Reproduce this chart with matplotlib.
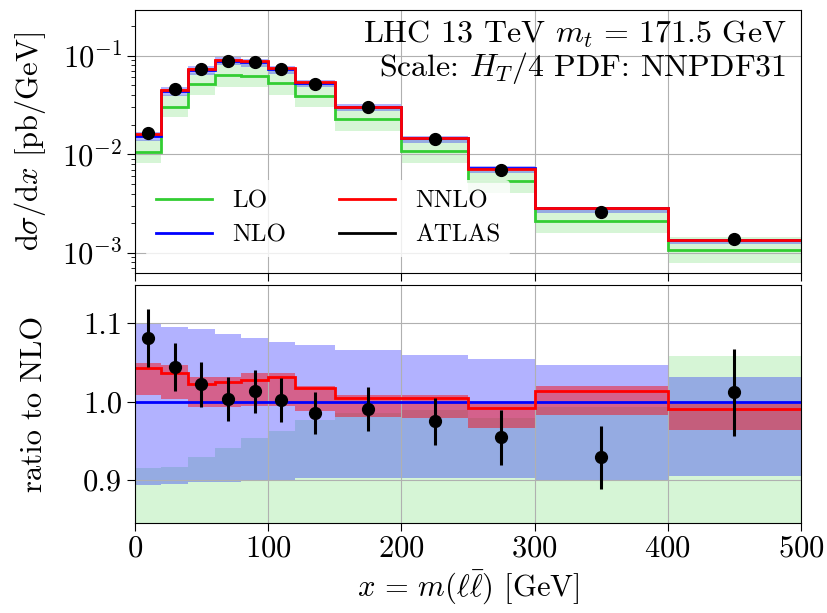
import numpy as np
import matplotlib
matplotlib.use('Agg')
import matplotlib.pyplot as plt
from matplotlib.lines import Line2D

plt.rcParams['font.family'] = 'serif'
plt.rcParams['font.serif'] = ['cmr10']
plt.rcParams['mathtext.fontset'] = 'cm'
plt.rcParams['axes.formatter.use_mathtext'] = True
plt.rcParams['font.size'] = 22

# m(ll) binning [GeV]
edges = np.array([0, 20, 40, 60, 80, 100, 120, 150, 200, 250, 300, 400, 500])
centers = 0.5 * (edges[1:] + edges[:-1])

# central predictions [pb/GeV]
lo = np.array([0.01064, 0.0304, 0.0513, 0.0637, 0.0622, 0.0525, 0.0390, 0.02264,
               0.0109, 0.00536, 0.00212, 0.00107])
nlo = np.array([0.01531, 0.04368, 0.07172, 0.08863, 0.08578, 0.07265, 0.05274, 0.03030,
                0.01456, 0.00722, 0.00282, 0.001354])
nnlo = np.array([0.01597, 0.04530, 0.07337, 0.09085, 0.08818, 0.07490, 0.05364, 0.03045,
                 0.01463, 0.00716, 0.00286, 0.001342])

# scale bands, relative to NLO central
lo_band_lo = np.array([0.530, 0.542, 0.557, 0.548, 0.557, 0.549, 0.570, 0.572, 0.565, 0.557, 0.560, 0.580])
lo_band_hi = np.array([0.915, 0.917, 0.929, 0.941, 0.954, 0.962, 0.977, 0.985, 0.989, 0.979, 0.993, 1.058])
nlo_band_lo = np.array([0.894, 0.895, 0.897, 0.898, 0.900, 0.900, 0.903, 0.902, 0.902, 0.903, 0.900, 0.905])
nlo_band_hi = np.array([1.100, 1.096, 1.093, 1.087, 1.081, 1.076, 1.072, 1.066, 1.060, 1.054, 1.047, 1.031])
nnlo_band_lo = np.array([1.009, 1.003, 0.993, 0.993, 0.994, 0.994, 0.988, 0.980, 0.979, 0.966, 0.983, 0.964])
nnlo_band_hi = np.array([1.049, 1.047, 1.032, 1.032, 1.037, 1.037, 1.020, 1.009, 1.009, 0.997, 1.020, 0.997])

# ATLAS measurement [pb/GeV]
atlas = np.array([0.01656, 0.0456, 0.0733, 0.0889, 0.0869, 0.0728, 0.0520, 0.0300,
                  0.0142, 0.00689, 0.00262, 0.00137])
atlas_err = np.array([0.000566, 0.00135, 0.00208, 0.00248, 0.00240, 0.00204, 0.00142, 0.00085,
                      0.000437, 0.000253, 0.000113, 0.0000758])

c_lo, c_nlo, c_nnlo = 'limegreen', 'blue', 'red'

fig = plt.figure(figsize=(8.27, 6.13), dpi=100)
ax1 = fig.add_axes([0.163, 0.5546, 0.8056, 0.4291])
ax2 = fig.add_axes([0.163, 0.1468, 0.8056, 0.3882], sharex=ax1)

# upper panel: absolute distributions
ax1.stairs(lo_band_hi * nlo, edges, baseline=lo_band_lo * nlo, fill=True, color=c_lo, alpha=0.2, lw=0)
ax1.stairs(nlo_band_hi * nlo, edges, baseline=nlo_band_lo * nlo, fill=True, color=c_nlo, alpha=0.3, lw=0)
ax1.stairs(nnlo_band_hi * nlo, edges, baseline=nnlo_band_lo * nlo, fill=True, color=c_nnlo, alpha=0.45, lw=0)
ax1.stairs(lo, edges, color=c_lo, lw=2, baseline=None, zorder=2.5)
ax1.stairs(nlo, edges, color=c_nlo, lw=2, baseline=None, zorder=2.5)
ax1.stairs(nnlo, edges, color=c_nnlo, lw=2, baseline=None, zorder=2.5)
ax1.errorbar(centers, atlas, yerr=atlas_err, fmt='o', color='k', ms=8.5, elinewidth=2.2, capsize=0, zorder=5)

ax1.set_yscale('log')
ax1.set_ylim(6.25e-4, 0.29)
ax1.set_xlim(0, 500)
ax1.set_ylabel(r'$\mathrm{d}\sigma/\mathrm{d}x$ [pb/GeV]')
ax1.grid(True)
ax1.tick_params(labelbottom=False)
ax1.text(0.9785, 0.968, 'LHC 13 TeV $m_t\\,=\\,171.5$ GeV\nScale: $H_T/4$ PDF: NNPDF31',
         transform=ax1.transAxes, ha='right', va='top', multialignment='right',
         linespacing=1.0, fontsize=23)

handles = [Line2D([], [], color=c_lo, lw=2), Line2D([], [], color=c_nlo, lw=2),
           Line2D([], [], color=c_nnlo, lw=2), Line2D([], [], color='k', lw=2)]
ax1.legend(handles, ['LO', 'NLO', 'NNLO', 'ATLAS'], ncol=2, loc='lower left',
           bbox_to_anchor=(0.0, 0.02), fontsize=18, frameon=True, edgecolor='none',
           facecolor='white', framealpha=0.8, handlelength=2.25, handletextpad=0.8,
           columnspacing=2.1, labelspacing=0.45, borderaxespad=0.45)

# lower panel: ratio to NLO
ax2.stairs(lo_band_hi, edges, baseline=lo_band_lo, fill=True, color=c_lo, alpha=0.2, lw=0)
ax2.stairs(nlo_band_hi, edges, baseline=nlo_band_lo, fill=True, color=c_nlo, alpha=0.3, lw=0)
ax2.stairs(nnlo_band_hi, edges, baseline=nnlo_band_lo, fill=True, color=c_nnlo, alpha=0.45, lw=0)
ax2.stairs(lo / nlo, edges, color=c_lo, lw=2, baseline=None, zorder=2.5)
ax2.stairs(nlo / nlo, edges, color=c_nlo, lw=2, baseline=None, zorder=2.5)
ax2.stairs(nnlo / nlo, edges, color=c_nnlo, lw=2, baseline=None, zorder=2.5)
ax2.errorbar(centers, atlas / nlo, yerr=atlas_err / nlo, fmt='o', color='k', ms=8.5,
             elinewidth=2.2, capsize=0, zorder=5)

ax2.set_ylim(0.845, 1.149)
ax2.set_yticks([0.9, 1.0, 1.1])
ax2.set_yticklabels(['0.9', '1.0', '1.1'])
ax2.set_xticks([0, 100, 200, 300, 400, 500])
ax2.set_ylabel('ratio to NLO')
ax2.set_xlabel(r'$x\,=\,m(\ell\bar{\ell})$ [GeV]')
ax2.grid(True)

for ax in (ax1, ax2):
    ax.tick_params(which='major', length=5.5)
    ax.tick_params(which='minor', length=3)
    ax.yaxis.set_label_coords(-0.13, 0.5)

fig.savefig('out.png', dpi=100)
